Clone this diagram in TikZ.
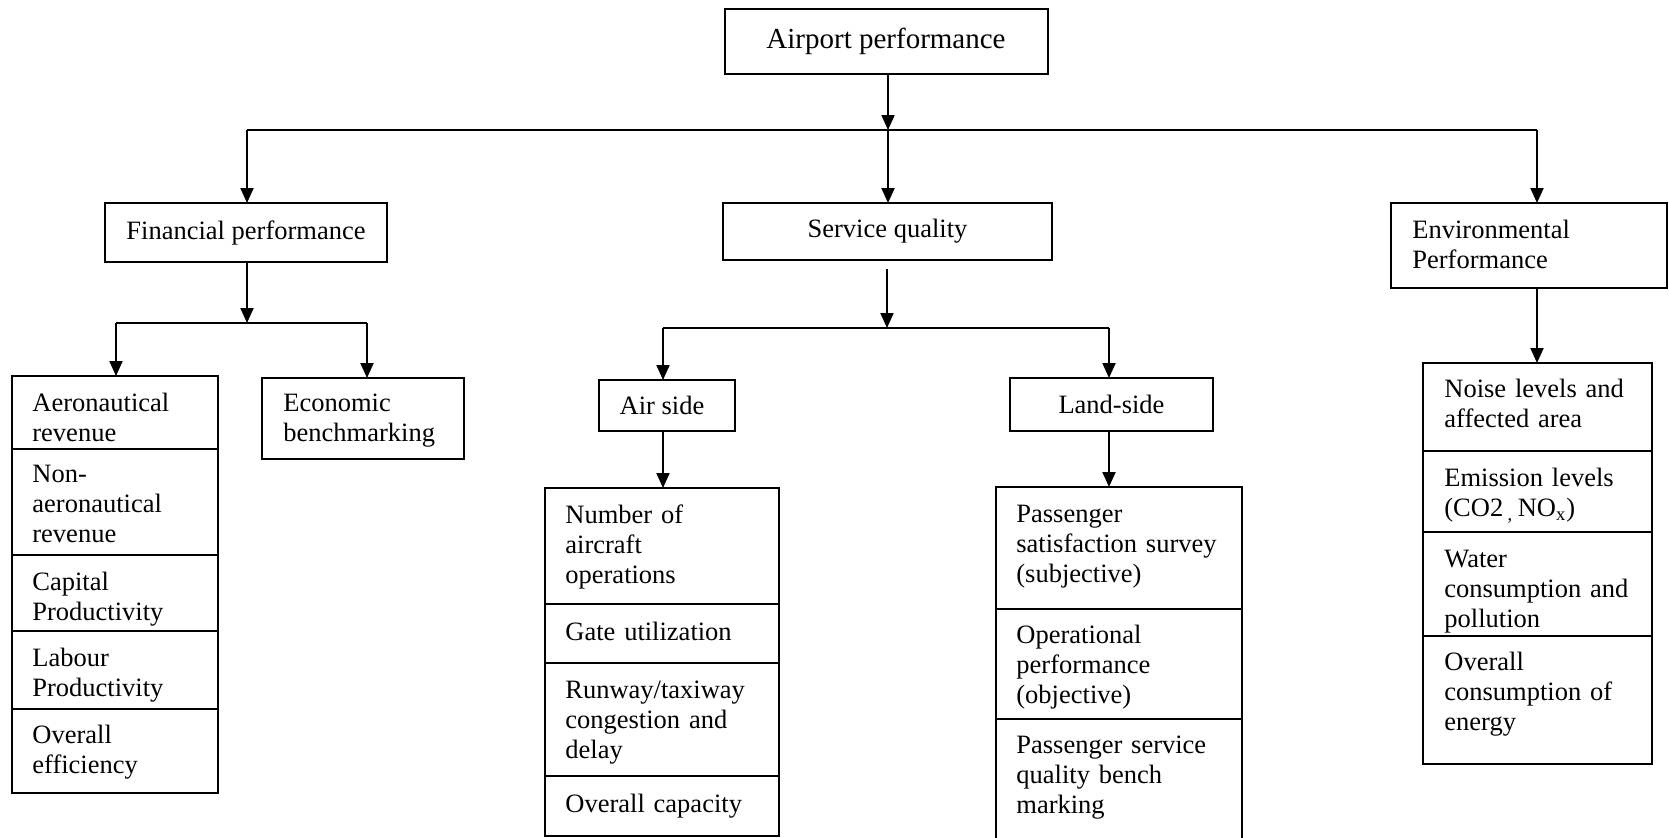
\documentclass[tikz,border=0pt]{standalone}
\usepackage{fontspec}
\setmainfont{Liberation Serif}
\usetikzlibrary{arrows.meta}

\newcommand\bodysize{\fontsize{13.25pt}{15pt}\selectfont}
\newcommand\topsize{\fontsize{14.5pt}{17pt}\selectfont}

% a framed cell given by its top-left and bottom-right corners (in px units)
\newcommand\cellat[5]{%
  \node[cellbox, minimum width={(#4-#2)*0.5pt}, minimum height={(#5-#3)*0.5pt}] (#1) at (#2,#3) {};}
% left-aligned text block placed by its first baseline
\newcommand\textat[4]{%
  \node[celltext] (#1) at (#2,#3) {#4};}

\begin{document}
\begin{tikzpicture}[x=0.5pt, y=-0.5pt,
  cellbox/.style={draw, fill=white, line width=1pt, anchor=north west, inner sep=0pt, outer sep=0pt},
  celltext/.style={anchor=base west, inner sep=0pt, text width=125pt, align=left, font=\bodysize},
  headbox/.style={draw, fill=white, line width=1pt, inner sep=0pt, outer sep=0pt, font=\bodysize},
  link/.style={line width=1pt},
  arr/.style={line width=1pt, -{Triangle[length=7.5pt, width=6.5pt]}}]

\useasboundingbox (0,0) rectangle (1669,837);
\clip (0,0) rectangle (1669,837);

% ---- top level
\node[headbox, font=\topsize, minimum width=161.5pt, minimum height=32.5pt] (airport) at (886,41.5) {Airport performance};

% ---- second level
\node[headbox, minimum width=141pt, minimum height=29.5pt] (fin) at (246,232.5) {Financial performance};
\node[headbox, minimum width=164.5pt, minimum height=28.5pt] (svc) at (887.5,231.5) {Service quality};
\cellat{env}{1391}{203}{1667}{288}
\textat{envt}{1412}{238}{Environmental\\Performance}

% ---- service quality branches
\node[headbox, minimum width=68pt, minimum height=25.5pt] (air) at (667,405.5) {\hspace*{-5pt}Air side};
\node[headbox, minimum width=101.5pt, minimum height=26.5pt] (land) at (1111.5,404.5) {Land-side};

% ---- financial indicators
\cellat{a1}{12}{376}{218}{449}
\cellat{a2}{12}{449}{218}{555}
\cellat{a3}{12}{555}{218}{631}
\cellat{a4}{12}{631}{218}{709}
\cellat{a5}{12}{709}{218}{793}
\textat{a1t}{32}{411}{Aeronautical\\revenue}
\textat{a2t}{32}{482}{Non-\\aeronautical\\revenue}
\textat{a3t}{32}{590}{Capital\\Productivity}
\textat{a4t}{32}{666}{Labour\\Productivity}
\textat{a5t}{32}{743}{Overall\\efficiency}

\cellat{econ}{262}{378}{464}{459}
\textat{econt}{283}{411}{Economic\\benchmarking}

% ---- air side indicators
\cellat{b1}{545}{488}{779}{604}
\cellat{b2}{545}{604}{779}{663}
\cellat{b3}{545}{663}{779}{776}
\cellat{b4}{545}{776}{779}{836}
\textat{b1t}{565}{523}{Number of\\aircraft\\operations}
\textat{b2t}{565}{640}{Gate utilization}
\textat{b3t}{565}{698}{Runway/taxiway\\congestion and\\delay}
\textat{b4t}{565}{812}{Overall capacity}

% ---- land side indicators
\cellat{c1}{996}{487}{1242}{609}
\cellat{c2}{996}{609}{1242}{719}
\cellat{c3}{996}{719}{1242}{850}
\textat{c1t}{1016}{522}{Passenger\\satisfaction survey\\(subjective)}
\textat{c2t}{1016}{643}{Operational\\performance\\(objective)}
\textat{c3t}{1016}{753}{Passenger service\\quality bench\\marking}

% ---- environmental indicators
\cellat{d1}{1423}{363}{1652}{451}
\cellat{d2}{1423}{451}{1652}{532}
\cellat{d3}{1423}{532}{1652}{636}
\cellat{d4}{1423}{636}{1652}{764}
\textat{d1t}{1444}{397}{Noise levels and\\affected area}
\textat{d2t}{1444}{486}{Emission levels\\(CO2\,\textsubscript{,}\,NO\textsubscript{x})}
\textat{d3t}{1444}{567}{Water\\consumption and\\pollution}
\textat{d4t}{1444}{670}{Overall\\consumption of\\energy}

% ---- junctions
\coordinate (jTop)  at (888,130);
\coordinate (jTopL) at (247,130);
\coordinate (jTopR) at (1537,130);
\coordinate (jFin)  at (247,323);
\coordinate (jFinL) at (116,323);
\coordinate (jFinR) at (367,323);
\coordinate (jSvc)  at (887,328);
\coordinate (jSvcL) at (663,328);
\coordinate (jSvcR) at (1109,328);

% ---- connectors
\draw[arr] (airport.south -| jTop) -- (jTop);
\draw[link] (jTopL) -- (jTopR);
\draw[arr] (jTopL) -- (fin.north -| jTopL);
\draw[arr] (jTop) -- (svc.north -| jTop);
\draw[arr] (jTopR) -- (env.north -| jTopR);

\draw[arr] (fin.south -| jFin) -- (jFin);
\draw[link] (jFinL) -- (jFinR);
\draw[arr] (jFinL) -- (a1.north -| jFinL);
\draw[arr] (jFinR) -- (econ.north -| jFinR);

\draw[arr, shorten <=4.5pt] (svc.south -| jSvc) -- (jSvc);
\draw[link] (jSvcL) -- (jSvcR);
\draw[arr] (jSvcL) -- (air.north -| jSvcL);
\draw[arr] (jSvcR) -- (land.north -| jSvcR);
\draw[arr] (air.south -| jSvcL) -- (b1.north -| jSvcL);
\draw[arr] (land.south -| jSvcR) -- (c1.north -| jSvcR);

\draw[arr] (env.south -| jTopR) -- (d1.north -| jTopR);
\end{tikzpicture}
\end{document}
